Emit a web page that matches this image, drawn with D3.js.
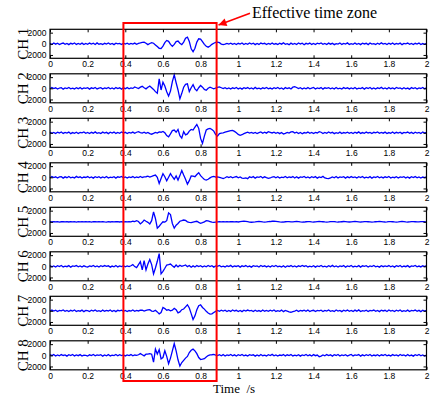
<!DOCTYPE html>
<meta charset="utf-8">
<style>

body {
  margin: 0;
  background: #fff;
}

.frame {
  fill: none;
  stroke: #000;
  stroke-width: 1.2px;
}

.trace {
  fill: none;
  stroke: #0000ff;
  stroke-width: 1.3px;
}

.axis path {
  display: none;
}

.axis line {
  stroke: #000;
}

.axis text {
  font: 8.5px "Liberation Sans", Arial, sans-serif;
  fill: #000;
}

.serif {
  font-family: "Liberation Serif", "Times New Roman", serif;
  fill: #000;
}

</style>
<svg width="432" height="399"></svg>
<script src="https://d3js.org/d3.v7.min.js"></script>
<script>

// amplitude samples, one every 0.01 s from 0 to 2 s
var ch1 = [
  80,-120,150,-60,110,-140,40,130,-100,60,-150,90,-30,140,-110,70,-80,120,-140,50,
  -90,130,-50,100,-130,160,-70,20,-120,90,-40,150,-100,60,-150,110,-20,80,-130,100,
  -60,120,-100,70,-40,130,-80,60,150,250,300,100,-150,50,200,100,-200,-500,-800,-850,
  -400,200,600,450,-100,-440,-100,400,500,100,-150,300,1000,1200,400,-900,-1430,-800,300,900,
  850,400,-100,-450,-600,-400,-100,100,250,300,200,-50,-150,-60,80,-40,120,-100,60,-130,
  90,-60,140,-120,50,-90,160,-40,100,-150,70,-110,130,-20,90,-140,60,-70,150,-100,
  40,-130,110,-60,170,-90,30,-150,120,-80,60,-120,140,-30,100,-160,80,-50,130,-110,
  70,-140,100,-20,150,-100,50,-130,120,-70,90,-150,40,-60,140,-110,80,-40,160,-120,
  30,-100,130,-80,60,-150,110,-30,90,-140,150,-60,20,-120,100,-90,170,-50,60,-130,
  110,-70,140,-110,50,-40,120,-150,80,-20,130,-100,60,-140,90,-60,150,-120,40,-90,
  100
];

var ch2 = [
  -100,140,-60,90,-130,50,120,-150,70,-40,160,-90,30,-120,110,-70,130,-140,60,-20,
  100,-150,80,-60,140,-110,40,120,-130,70,-30,150,-90,60,-120,130,-50,90,-140,110,
  -70,130,-90,60,-20,250,100,-50,200,350,100,-100,200,400,100,-200,-600,-900,1700,-300,
  1100,400,-600,-1400,-500,1200,2400,1000,-300,-1900,-900,200,700,800,-600,100,650,-100,-450,100,
  500,200,-200,-350,0,200,50,-100,50,150,250,100,-60,120,-100,70,-130,90,-40,140,
  -110,60,-150,100,-30,130,-90,50,-140,160,-70,20,-120,90,-60,150,-100,40,-130,110,
  -50,140,-90,70,-160,120,-40,90,-120,200,300,150,-60,100,-140,60,-80,130,-100,40,
  150,-120,70,-60,130,-150,90,-20,110,-100,60,-140,140,-80,30,-130,120,-50,90,-110,
  60,-90,150,-130,40,-60,120,-150,100,-30,140,-110,70,-120,90,-40,160,-100,50,-140,
  130,-70,80,-110,150,-20,60,-140,110,-90,40,-150,120,-60,100,-130,70,-30,140,-100,
  80
];

var ch3 = [
  120,-80,60,-140,100,-30,150,-110,70,-60,130,-150,40,-90,110,-120,80,-20,140,-100,
  50,-130,90,-70,160,-100,30,-140,120,-50,80,-150,100,-40,130,-110,60,-90,150,-60,
  90,-120,60,-40,130,-80,100,200,50,-60,120,-100,60,-150,-250,-100,80,-60,150,100,
  250,0,-500,-730,-200,400,500,100,600,-500,-960,200,-380,-200,300,600,500,1000,1500,800,
  -1000,-1900,-600,500,700,800,600,300,-300,-600,-150,-50,0,100,200,300,400,440,250,0,
  -300,-440,-350,-150,0,100,-50,80,-100,60,-120,40,150,-80,120,-60,200,90,-30,110,
  -100,60,-150,50,-200,-100,80,-60,150,200,-40,100,-120,70,-160,40,-60,130,-90,60,
  -140,80,-30,200,100,-120,60,-100,140,-50,90,-150,30,-80,120,-130,50,-40,110,-100,
  70,-120,100,-60,160,-110,40,-90,130,-30,80,-140,90,-20,150,-100,60,-70,120,-130,
  40,-80,140,-110,90,-50,110,-150,60,-20,130,-100,80,-140,100,-40,70,-120,150,-60,
  90
];

var ch4 = [
  -110,150,-40,90,-130,60,110,-150,80,-70,140,-100,30,-120,160,-60,90,-140,50,-30,
  130,-90,70,-150,100,-40,120,-110,60,-80,150,-130,40,-60,110,-140,90,-20,140,-100,
  60,-120,80,-40,130,-90,50,-60,150,-30,60,100,200,50,150,300,400,0,-1100,-200,
  650,100,-640,0,650,100,-350,230,-500,300,1230,400,-350,-1230,-600,230,200,100,500,820,
  300,-60,-400,-500,-350,-100,100,170,50,80,0,-120,-230,-80,100,-60,120,-100,50,140,
  -90,60,-130,-200,-100,-250,80,-40,120,-150,60,-20,140,-110,90,-60,-200,-120,50,130,
  -80,110,-140,40,-60,150,-100,70,-30,130,-120,90,-150,60,-20,140,-90,50,-130,100,
  -60,120,-150,80,-40,160,-110,-200,-250,-100,70,-90,140,-130,60,-20,110,-150,90,-70,
  130,-40,80,-140,100,-60,150,-120,30,-90,120,-150,70,-30,140,-100,60,-110,90,-50,
  150,-130,40,-70,110,-140,80,-20,120,-110,60,-150,100,-40,130,-90,70,-120,50,-60,
  100
];

var ch5 = [
  20,-30,40,-20,30,-40,10,30,-20,40,-30,20,-10,30,-40,20,-20,40,-30,10,
  -20,30,-40,20,10,-30,40,-20,30,-10,-40,20,-30,40,-20,10,30,-30,20,-40,
  30,-20,40,-10,100,50,200,50,-380,-100,320,100,-100,-380,200,1780,600,-1140,-800,-380,
  0,-50,200,1600,1300,-300,-1140,-600,-300,100,200,320,250,0,-100,-150,-50,50,100,-100,
  -260,-150,0,200,150,50,-50,-100,-50,0,30,-20,40,-10,20,-30,10,40,-20,30,
  -30,50,80,100,60,20,-40,-80,-60,-20,30,60,40,-10,-50,-30,20,50,100,120,
  80,40,-20,-60,-40,10,40,20,-30,-20,30,50,20,-30,-60,-40,10,40,30,-10,
  -40,-20,20,60,40,10,-30,-50,-20,20,40,30,-10,-40,-30,10,50,30,-20,-40,
  -20,30,50,20,-10,-40,-30,20,40,10,-20,-50,-30,10,40,60,30,-20,-40,-10,
  30,40,10,-30,-50,-20,20,50,30,-10,-40,-20,20,40,10,-30,-20,30,40,10,
  0
];

var ch6 = [
  140,-90,60,-130,100,-40,150,-110,30,-70,120,-150,80,-20,130,-100,60,-140,90,-50,
  -120,80,-30,150,-90,60,-140,110,-60,130,-20,90,-150,40,-80,140,-110,70,-40,120,
  -100,60,-50,100,300,-50,-230,300,820,-640,1000,-640,400,1230,300,-1350,-300,900,2280,-1350,
  -900,-350,230,300,400,100,-170,230,-100,200,0,100,230,-60,150,-170,80,-120,130,-50,
  100,-130,60,-90,150,-40,110,-150,70,-20,140,-100,30,-120,90,-60,160,-110,50,-30,
  120,-140,80,-60,130,-90,40,-150,110,-20,70,-130,150,-50,90,-110,60,-140,100,-40,
  140,-70,30,-120,110,-160,80,-30,130,-100,50,-140,90,-60,150,-20,120,-110,40,-80,
  100,-150,60,-40,140,-100,20,-130,110,-70,160,-90,50,-120,80,-30,130,-150,70,-60,
  150,-110,40,-80,120,-140,90,-20,100,-130,60,-50,140,-100,30,-150,110,-70,80,-40,
  130,-90,60,-150,100,-30,140,-120,50,-70,120,-140,80,-20,150,-100,40,-110,90,-60,
  110
];

var ch7 = [
  -80,130,-50,110,-140,70,-20,150,-100,60,-130,90,-40,140,-110,30,-70,120,-150,80,
  40,-120,100,-60,150,-90,20,-140,130,-70,80,-30,140,-110,60,-150,90,-20,120,-100,
  70,-130,50,-40,140,-90,60,-30,100,120,-60,80,150,200,-50,-100,100,-200,-550,-300,
  600,400,100,200,0,100,440,200,-380,-200,200,320,700,1080,500,-500,-1550,-900,200,900,
  1080,600,300,-100,-400,-600,-550,-300,-100,60,-80,120,-40,100,-130,60,-110,140,-30,90,
  -120,50,-150,100,-60,130,-20,80,-140,110,-90,40,-130,150,-70,60,-100,120,-50,140,
  -110,30,-80,130,-150,70,-60,-200,-260,-150,-50,100,-140,60,-30,120,-90,150,-120,40,
  90,-140,60,-20,110,-130,80,-50,150,-100,30,-120,140,-60,70,-150,100,-40,130,-90,
  50,-110,120,-70,160,-130,40,-60,100,-140,80,-20,130,-100,60,-150,110,-30,90,-120,
  140,-60,70,-130,100,-40,150,-110,30,-90,120,-140,60,-20,130,-100,80,-150,110,-50,
  90
];

var ch8 = [
  110,-60,140,-120,50,-90,130,-30,80,-150,100,-40,150,-110,60,-70,120,-140,40,-20,
  -130,90,-50,140,-100,70,-20,120,-150,60,-80,130,-110,30,-60,150,-90,100,-40,80,
  -110,60,-40,130,-90,50,-20,100,300,100,-100,200,200,300,200,-1230,1100,230,1000,-640,
  -400,820,-200,-1520,-500,800,2100,800,-800,-1930,-1300,-900,-500,-200,500,900,1100,800,300,-400,
  -760,-700,-600,-300,-50,60,100,170,40,-60,110,-80,130,-120,60,-30,140,-100,80,-140,
  100,-50,150,-90,40,-130,120,-20,90,-150,60,-110,140,-70,30,-120,100,-40,160,-100,
  70,-140,50,-30,130,-110,90,-60,150,-120,20,-80,110,-150,60,-40,140,-90,80,-130,
  120,-70,40,-250,-150,60,-100,130,-50,90,-140,110,-30,150,-120,70,-60,100,-140,40,
  160,-110,60,-20,130,-150,80,-90,110,-40,140,-120,50,-70,100,-130,90,-30,150,-100,
  40,-140,120,-60,80,-110,150,-30,60,-120,130,-80,40,-150,100,-50,140,-90,70,-120,
  60
];

var channels = ["CH 1", "CH 2", "CH 3", "CH 4", "CH 5", "CH 6", "CH 7", "CH 8"];
var series = [ch1, ch2, ch3, ch4, ch5, ch6, ch7, ch8];
var xTicks = [0, 0.2, 0.4, 0.6, 0.8, 1, 1.2, 1.4, 1.6, 1.8, 2];
var yTicks = [-2000, 0, 2000];
var dt = 0.01;
var zone = [0.39, 0.885];

var svg = d3.select("svg"),
    left = 50,
    right = 426.5,
    firstTop = 29.3,
    panelH = 29,
    step = 44.5;

var x = d3.scaleLinear()
    .domain([0, 2])
    .range([left, right]);

var y = d3.scaleLinear()
    .domain([-2600, 2600])
    .range([panelH, 0]);

var line = d3.line()
    .x(function(d, i) { return x(i * dt); })
    .y(function(d) { return y(d); });

series.forEach(function(values, k) {
  var g = svg.append("g")
      .attr("transform", "translate(0," + (firstTop + k * step) + ")");

  g.append("path")
      .attr("class", "trace")
      .attr("d", line(values));

  g.append("g")
      .attr("class", "axis")
      .attr("transform", "translate(0," + panelH + ")")
      .call(d3.axisBottom(x).tickValues(xTicks).tickSizeInner(-3).tickSizeOuter(0)
        .tickPadding(3).tickFormat(function(d) { return String(d); }));

  g.append("g")
      .attr("class", "axis")
      .call(d3.axisTop(x).tickValues(xTicks).tickSizeInner(-3).tickSizeOuter(0)
        .tickFormat(""));

  g.append("g")
      .attr("class", "axis")
      .attr("transform", "translate(" + left + ",0)")
      .call(d3.axisLeft(y).tickValues(yTicks).tickSizeInner(-3).tickSizeOuter(0)
        .tickPadding(3.5).tickFormat(function(d) { return String(Math.abs(d)); }));

  g.append("g")
      .attr("class", "axis")
      .attr("transform", "translate(" + right + ",0)")
      .call(d3.axisRight(y).tickValues(yTicks).tickSizeInner(-3).tickSizeOuter(0)
        .tickFormat(""));

  g.append("rect")
      .attr("class", "frame")
      .attr("x", left)
      .attr("width", right - left)
      .attr("height", panelH);

  g.append("text")
      .attr("class", "serif")
      .attr("transform", "translate(22.5," + (panelH / 2) + ") rotate(-90)")
      .attr("text-anchor", "middle")
      .attr("dy", "0.35em")
      .style("font-size", "15px")
      .text(channels[k]);
});

// effective time zone box
svg.append("rect")
    .attr("x", x(zone[0]))
    .attr("y", 23)
    .attr("width", x(zone[1]) - x(zone[0]))
    .attr("height", 358)
    .attr("fill", "none")
    .attr("stroke", "#ff0000")
    .attr("stroke-width", 2);

svg.append("defs").append("marker")
    .attr("id", "head")
    .attr("viewBox", "0 0 10 10")
    .attr("refX", 10)
    .attr("refY", 5)
    .attr("markerUnits", "userSpaceOnUse")
    .attr("markerWidth", 10)
    .attr("markerHeight", 8)
    .attr("orient", "auto")
  .append("path")
    .attr("d", "M0,0L10,5L0,10z")
    .attr("fill", "#ff0000");

svg.append("line")
    .attr("x1", 250)
    .attr("y1", 13.3)
    .attr("x2", 218.5)
    .attr("y2", 25)
    .attr("stroke", "#ff0000")
    .attr("stroke-width", 1.6)
    .attr("marker-end", "url(#head)");

svg.append("text")
    .attr("class", "serif")
    .attr("x", 252)
    .attr("y", 17.5)
    .style("font-size", "16px")
    .text("Effective time zone");

svg.append("text")
    .attr("class", "serif")
    .attr("x", 213)
    .attr("y", 393)
    .style("font-size", "13px")
    .style("white-space", "pre")
    .text("Time  /s");

</script>
